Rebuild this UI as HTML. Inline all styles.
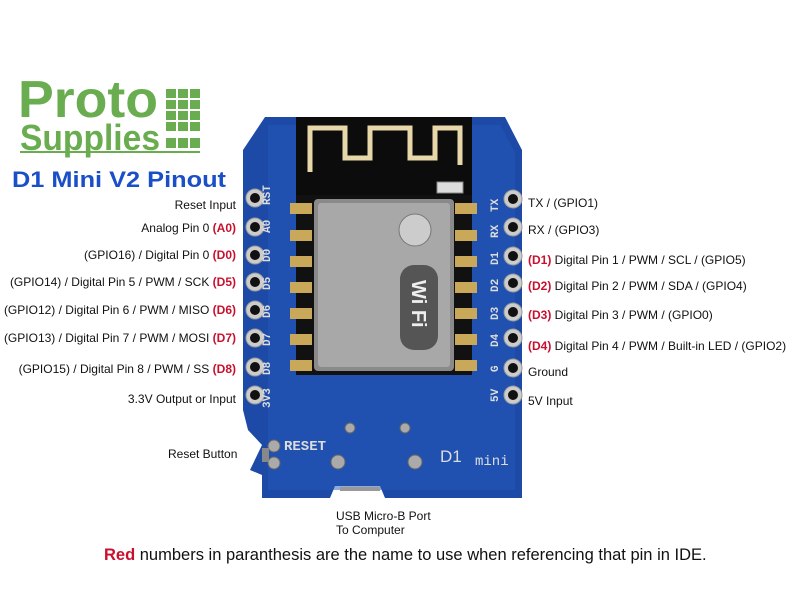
<!DOCTYPE html>
<html><head><meta charset="utf-8"><style>
body{margin:0;background:#fff;width:800px;height:600px;overflow:hidden;position:relative;font-family:"Liberation Sans",sans-serif}
.l{position:absolute;font-size:12px;color:#111;white-space:nowrap;line-height:14px}
.r{color:#c8102e;font-weight:bold}
.la{right:564px;text-align:right}
.ra{left:528px}
</style></head><body>
<svg width="800" height="600" style="position:absolute;left:0;top:0">
<!-- logo -->
<text x="18" y="117" font-family="Liberation Sans" font-weight="bold" font-size="52" fill="#6aac50" textLength="140" lengthAdjust="spacingAndGlyphs">Proto</text>
<text x="20" y="150" font-family="Liberation Sans" font-weight="bold" font-size="36" fill="#6aac50" textLength="140" lengthAdjust="spacingAndGlyphs">Supplies</text>
<line x1="20" y1="152" x2="200" y2="152" stroke="#6aac50" stroke-width="2"/>
<g fill="#6aac50">
<rect x="166" y="89" width="10" height="9"/><rect x="178" y="89" width="10" height="9"/><rect x="190" y="89" width="10" height="9"/>
<rect x="166" y="100" width="10" height="9"/><rect x="178" y="100" width="10" height="9"/><rect x="190" y="100" width="10" height="9"/>
<rect x="166" y="111" width="10" height="9"/><rect x="178" y="111" width="10" height="9"/><rect x="190" y="111" width="10" height="9"/>
<rect x="166" y="122" width="10" height="9"/><rect x="178" y="122" width="10" height="9"/><rect x="190" y="122" width="10" height="9"/>
<rect x="166" y="138" width="10" height="10"/><rect x="178" y="138" width="10" height="10"/><rect x="190" y="138" width="10" height="10"/>
</g>
<text x="12" y="187" font-family="Liberation Sans" font-weight="bold" font-size="22" fill="#1a4fc8" textLength="214" lengthAdjust="spacingAndGlyphs">D1 Mini V2 Pinout</text>
<!-- board -->
<path d="M265 117 L505 117 L522 150 L522 498 L385 498 L380 486 L335 486 L330 498 L262 498 L262 475 L250 470 L262 445 L248 430 L243 410 L243 150 Z" fill="#1c4aa6"/>
<path d="M268 125 L500 125 L515 152 L515 490 L268 490 Z" fill="#2358bb" opacity="0.5"/>
<!-- antenna -->
<rect x="296" y="117" width="176" height="80" fill="#0c0c0c"/>
<path d="M310 172 L310 128 L345 128 L345 158 L370 158 L370 128 L410 128 L410 158 L435 158 L435 128 L460 128 L460 165" stroke="#e8d7a8" stroke-width="5" fill="none"/>
<rect x="437" y="182" width="26" height="11" fill="#ddd" stroke="#888"/>
<!-- module -->
<rect x="296" y="195" width="176" height="180" fill="#111"/>
<rect x="314" y="199" width="140" height="172" rx="4" fill="#8a8a8a"/>
<rect x="318" y="203" width="132" height="164" rx="3" fill="#a8a8a8"/>
<rect x="400" y="265" width="38" height="85" rx="14" fill="#555"/>
<text x="0" y="0" transform="translate(412,280) rotate(90)" font-size="20" font-weight="bold" fill="#eee">Wi Fi</text>
<circle cx="415" cy="230" r="16" fill="#ccc" stroke="#777"/>
<!-- pads -->
<g fill="#c9a85a">
<rect x="290" y="203" width="22" height="11"/><rect x="290" y="230" width="22" height="11"/><rect x="290" y="256" width="22" height="11"/><rect x="290" y="282" width="22" height="11"/><rect x="290" y="308" width="22" height="11"/><rect x="290" y="334" width="22" height="11"/><rect x="290" y="360" width="22" height="11"/>
<rect x="455" y="203" width="22" height="11"/><rect x="455" y="230" width="22" height="11"/><rect x="455" y="256" width="22" height="11"/><rect x="455" y="282" width="22" height="11"/><rect x="455" y="308" width="22" height="11"/><rect x="455" y="334" width="22" height="11"/><rect x="455" y="360" width="22" height="11"/>
</g>
<!-- pins -->
<g fill="#ccc" stroke="#999" stroke-width="1">
<circle cx="255" cy="198" r="9"/><circle cx="255" cy="227" r="9"/><circle cx="255" cy="255" r="9"/><circle cx="255" cy="282" r="9"/><circle cx="255" cy="310" r="9"/><circle cx="255" cy="338" r="9"/><circle cx="255" cy="367" r="9"/><circle cx="255" cy="395" r="9"/>
<circle cx="513" cy="199" r="9"/><circle cx="513" cy="227" r="9"/><circle cx="513" cy="256" r="9"/><circle cx="513" cy="283" r="9"/><circle cx="513" cy="312" r="9"/><circle cx="513" cy="338" r="9"/><circle cx="513" cy="368" r="9"/><circle cx="513" cy="395" r="9"/>
</g>
<g fill="#111">
<circle cx="255" cy="198" r="5"/><circle cx="255" cy="227" r="5"/><circle cx="255" cy="255" r="5"/><circle cx="255" cy="282" r="5"/><circle cx="255" cy="310" r="5"/><circle cx="255" cy="338" r="5"/><circle cx="255" cy="367" r="5"/><circle cx="255" cy="395" r="5"/>
<circle cx="513" cy="199" r="5"/><circle cx="513" cy="227" r="5"/><circle cx="513" cy="256" r="5"/><circle cx="513" cy="283" r="5"/><circle cx="513" cy="312" r="5"/><circle cx="513" cy="338" r="5"/><circle cx="513" cy="368" r="5"/><circle cx="513" cy="395" r="5"/>
</g>
<!-- silkscreen -->
<g fill="#ddd" font-size="11" font-weight="bold" font-family="Liberation Mono">
<text transform="translate(270,205) rotate(-90)">RST</text>
<text transform="translate(270,233) rotate(-90)">A0</text>
<text transform="translate(270,262) rotate(-90)">D0</text>
<text transform="translate(270,290) rotate(-90)">D5</text>
<text transform="translate(270,318) rotate(-90)">D6</text>
<text transform="translate(270,346) rotate(-90)">D7</text>
<text transform="translate(270,375) rotate(-90)">D8</text>
<text transform="translate(270,408) rotate(-90)">3V3</text>
<text transform="translate(498,212) rotate(-90)">TX</text>
<text transform="translate(498,238) rotate(-90)">RX</text>
<text transform="translate(498,265) rotate(-90)">D1</text>
<text transform="translate(498,292) rotate(-90)">D2</text>
<text transform="translate(498,320) rotate(-90)">D3</text>
<text transform="translate(498,347) rotate(-90)">D4</text>
<text transform="translate(498,372) rotate(-90)">G</text>
<text transform="translate(498,402) rotate(-90)">5V</text>
</g>
<text x="284" y="450" font-size="14" font-weight="bold" fill="#ddd" font-family="Liberation Mono">RESET</text>
<text x="440" y="462" font-size="17" fill="#ddd" font-family="Liberation Sans">D1</text>
<text x="475" y="465" font-size="14" fill="#ddd" font-family="Liberation Mono">mini</text>
<g fill="#aaa" stroke="#666"><circle cx="274" cy="446" r="6"/><circle cx="274" cy="463" r="6"/><circle cx="350" cy="428" r="5"/><circle cx="405" cy="428" r="5"/><circle cx="338" cy="462" r="7"/><circle cx="415" cy="462" r="7"/></g>
<rect x="262" y="448" width="7" height="14" fill="#888"/>
<rect x="340" y="487" width="40" height="4" fill="#999"/>
</svg>
<div class="l la" style="top:198px">Reset Input</div>
<div class="l la" style="top:221px">Analog Pin 0 <span class="r">(A0)</span></div>
<div class="l la" style="top:248px">(GPIO16) / Digital Pin 0 <span class="r">(D0)</span></div>
<div class="l la" style="top:275px">(GPIO14) / Digital Pin 5 / PWM / SCK <span class="r">(D5)</span></div>
<div class="l la" style="top:303px">(GPIO12) / Digital Pin 6 / PWM / MISO <span class="r">(D6)</span></div>
<div class="l la" style="top:331px">(GPIO13) / Digital Pin 7 / PWM / MOSI <span class="r">(D7)</span></div>
<div class="l la" style="top:362px">(GPIO15) / Digital Pin 8 / PWM / SS <span class="r">(D8)</span></div>
<div class="l la" style="top:392px">3.3V Output or Input</div>
<div class="l ra" style="top:196px">TX / (GPIO1)</div>
<div class="l ra" style="top:223px">RX / (GPIO3)</div>
<div class="l ra" style="top:253px"><span class="r">(D1)</span> Digital Pin 1 / PWM / SCL / (GPIO5)</div>
<div class="l ra" style="top:279px"><span class="r">(D2)</span> Digital Pin 2 / PWM / SDA / (GPIO4)</div>
<div class="l ra" style="top:308px"><span class="r">(D3)</span> Digital Pin 3 / PWM / (GPIO0)</div>
<div class="l ra" style="top:339px"><span class="r">(D4)</span> Digital Pin 4 / PWM / Built-in LED / (GPIO2)</div>
<div class="l ra" style="top:365px">Ground</div>
<div class="l ra" style="top:394px">5V Input</div>
<div class="l" style="left:168px;top:447px">Reset Button</div>
<div class="l" style="left:336px;top:509px">USB Micro-B Port</div>
<div class="l" style="left:336px;top:523px">To Computer</div>
<div class="l" style="left:104px;top:546px;font-size:16.5px;line-height:19px"><span class="r">Red</span> numbers in paranthesis are the name to use when referencing that pin in IDE.</div>
</body></html>
